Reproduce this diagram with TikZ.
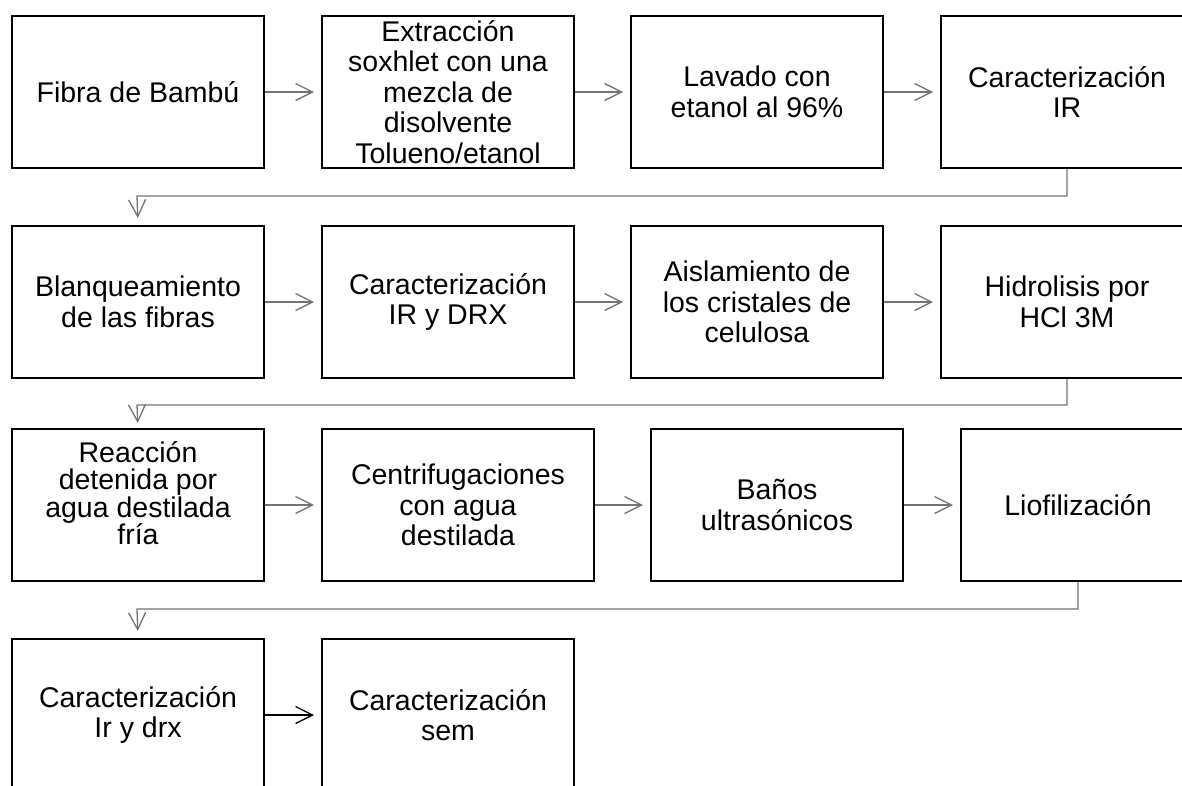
\documentclass[tikz,border=0pt]{standalone}
\usepackage{fontspec}
\setmainfont{Liberation Sans}
\usetikzlibrary{arrows.meta}

\tikzset{
  paso/.style={draw, line width=2pt, inner sep=0pt, anchor=north west, align=center,
    minimum width=252pt, minimum height=152pt, font=\fontsize{28.5}{30.5}\selectfont},
  flecha/.style={draw=black!55, line width=1.3pt, shorten >=7pt,
    -{Straight Barb[length=17pt,width=17pt]}},
}

\begin{document}
\begin{tikzpicture}[x=1pt,y=-1pt]
\useasboundingbox (0,0) rectangle (1182,785);
\node[paso] (fibra) at (11,15) {Fibra de Bambú};
\node[paso] (soxhlet) at (321,15) {Extracción\\soxhlet con una\\mezcla de\\disolvente\\Tolueno/etanol};
\node[paso] (lavado) at (630,15) {Lavado con\\etanol al 96\%};
\node[paso] (carIR) at (940,15) {Caracterización\\IR};
\node[paso] (blanqueo) at (11,225) {Blanqueamiento\\de las fibras};
\node[paso] (carDRX) at (321,225) {Caracterización\\IR y DRX};
\node[paso] (aislado) at (630,225) {Aislamiento de\\los cristales de\\celulosa};
\node[paso] (hidrolisis) at (940,225) {Hidrolisis por\\HCl 3M};
\node[paso,font=\fontsize{28.5}{27.5}\selectfont,text depth=24pt] (reaccion) at (11,428) {Reacción\\detenida por\\agua destilada\\fría};
\node[paso,minimum width=272pt] (centrif) at (321,428) {Centrifugaciones\\con agua\\destilada};
\node[paso] (banos) at (650,428) {Baños\\ultrasónicos};
\node[paso,minimum width=234pt] (liofil) at (960,428) {Liofilización};
\node[paso] (carIrdrx) at (11,638) {Caracterización\\Ir y drx};
\node[paso] (carSem) at (321,638) {Caracterización\\sem};

\coordinate (v1) at (137,196);
\coordinate (v2) at (137,405);
\coordinate (v3) at (137,609);

\draw[flecha] (fibra) -- (soxhlet);
\draw[flecha] (soxhlet) -- (lavado);
\draw[flecha] (lavado) -- (carIR);
\draw[flecha] (carIR.south) |- (v1) -- (blanqueo.north);
\draw[flecha] (blanqueo) -- (carDRX);
\draw[flecha] (carDRX) -- (aislado);
\draw[flecha] (aislado) -- (hidrolisis);
\draw[flecha,shorten >=5pt] (hidrolisis.south) |- (v2) -- (reaccion.north);
\draw[flecha] (reaccion) -- (centrif);
\draw[flecha] (centrif) -- (banos);
\draw[flecha] (banos) -- (liofil);
\draw[flecha] (liofil.south) |- (v3) -- (carIrdrx.north);
\draw[flecha,draw=black] (carIrdrx) -- (carSem);
\end{tikzpicture}
\end{document}
